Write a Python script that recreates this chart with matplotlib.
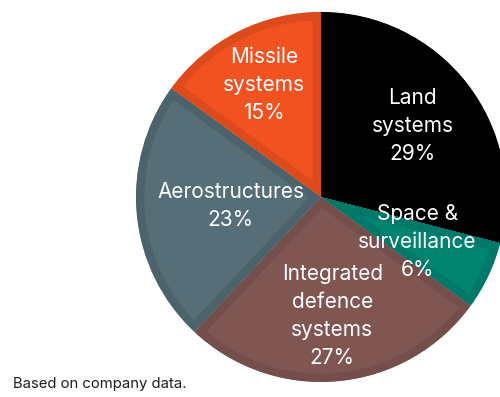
import matplotlib.pyplot as plt
import numpy as np

plt.rcParams['font.family'] = ['Inter', 'DejaVu Sans']

segments = ['Land\nsystems', 'Space &\nsurveillance', 'Integrated\ndefence\nsystems',
            'Aerostructures', 'Missile\nsystems']
shares = [29, 6, 27, 23, 15]
fills = ['#000000', '#00846f', '#7f5651', '#566e78', '#f2521f']
borders = ['#000000', '#00786a', '#744e4a', '#4c636c', '#dd4b1c']
# how far from the centre each label sits, as a fraction of the radius
label_r = [0.625, 0.575, 0.645, 0.49, 0.68]

fig = plt.figure(figsize=(5.0, 3.97), dpi=100)
ax = fig.add_axes([0.272, 0.0378, 0.74, 0.932])

wedges, _ = ax.pie(shares, colors=fills, startangle=90, counterclock=False,
                   radius=1.0, wedgeprops=dict(linewidth=12))
for w, ec in zip(wedges, borders):
    w.set_edgecolor(ec)
    # pie turns clipping off; clip each wedge to itself so only the inner half of the edge shows
    w.set_clip_on(True)
    w.set_clip_path(w)

for w, name, share, r in zip(wedges, segments, shares, label_r):
    mid = np.deg2rad((w.theta1 + w.theta2) / 2)
    ax.text(r * np.cos(mid), r * np.sin(mid), f'{name}\n{share}%',
            ha='center', va='center', color='white', fontsize=15,
            linespacing=1.5)

ax.set_xlim(-1, 1)
ax.set_ylim(-1, 1)
ax.set_aspect('equal')

fig.text(0.026, 0.033, 'Based on company data.', fontsize=10.7, color='#1e1e1e',
         ha='left', va='center')

fig.savefig('out.png', dpi=100)
